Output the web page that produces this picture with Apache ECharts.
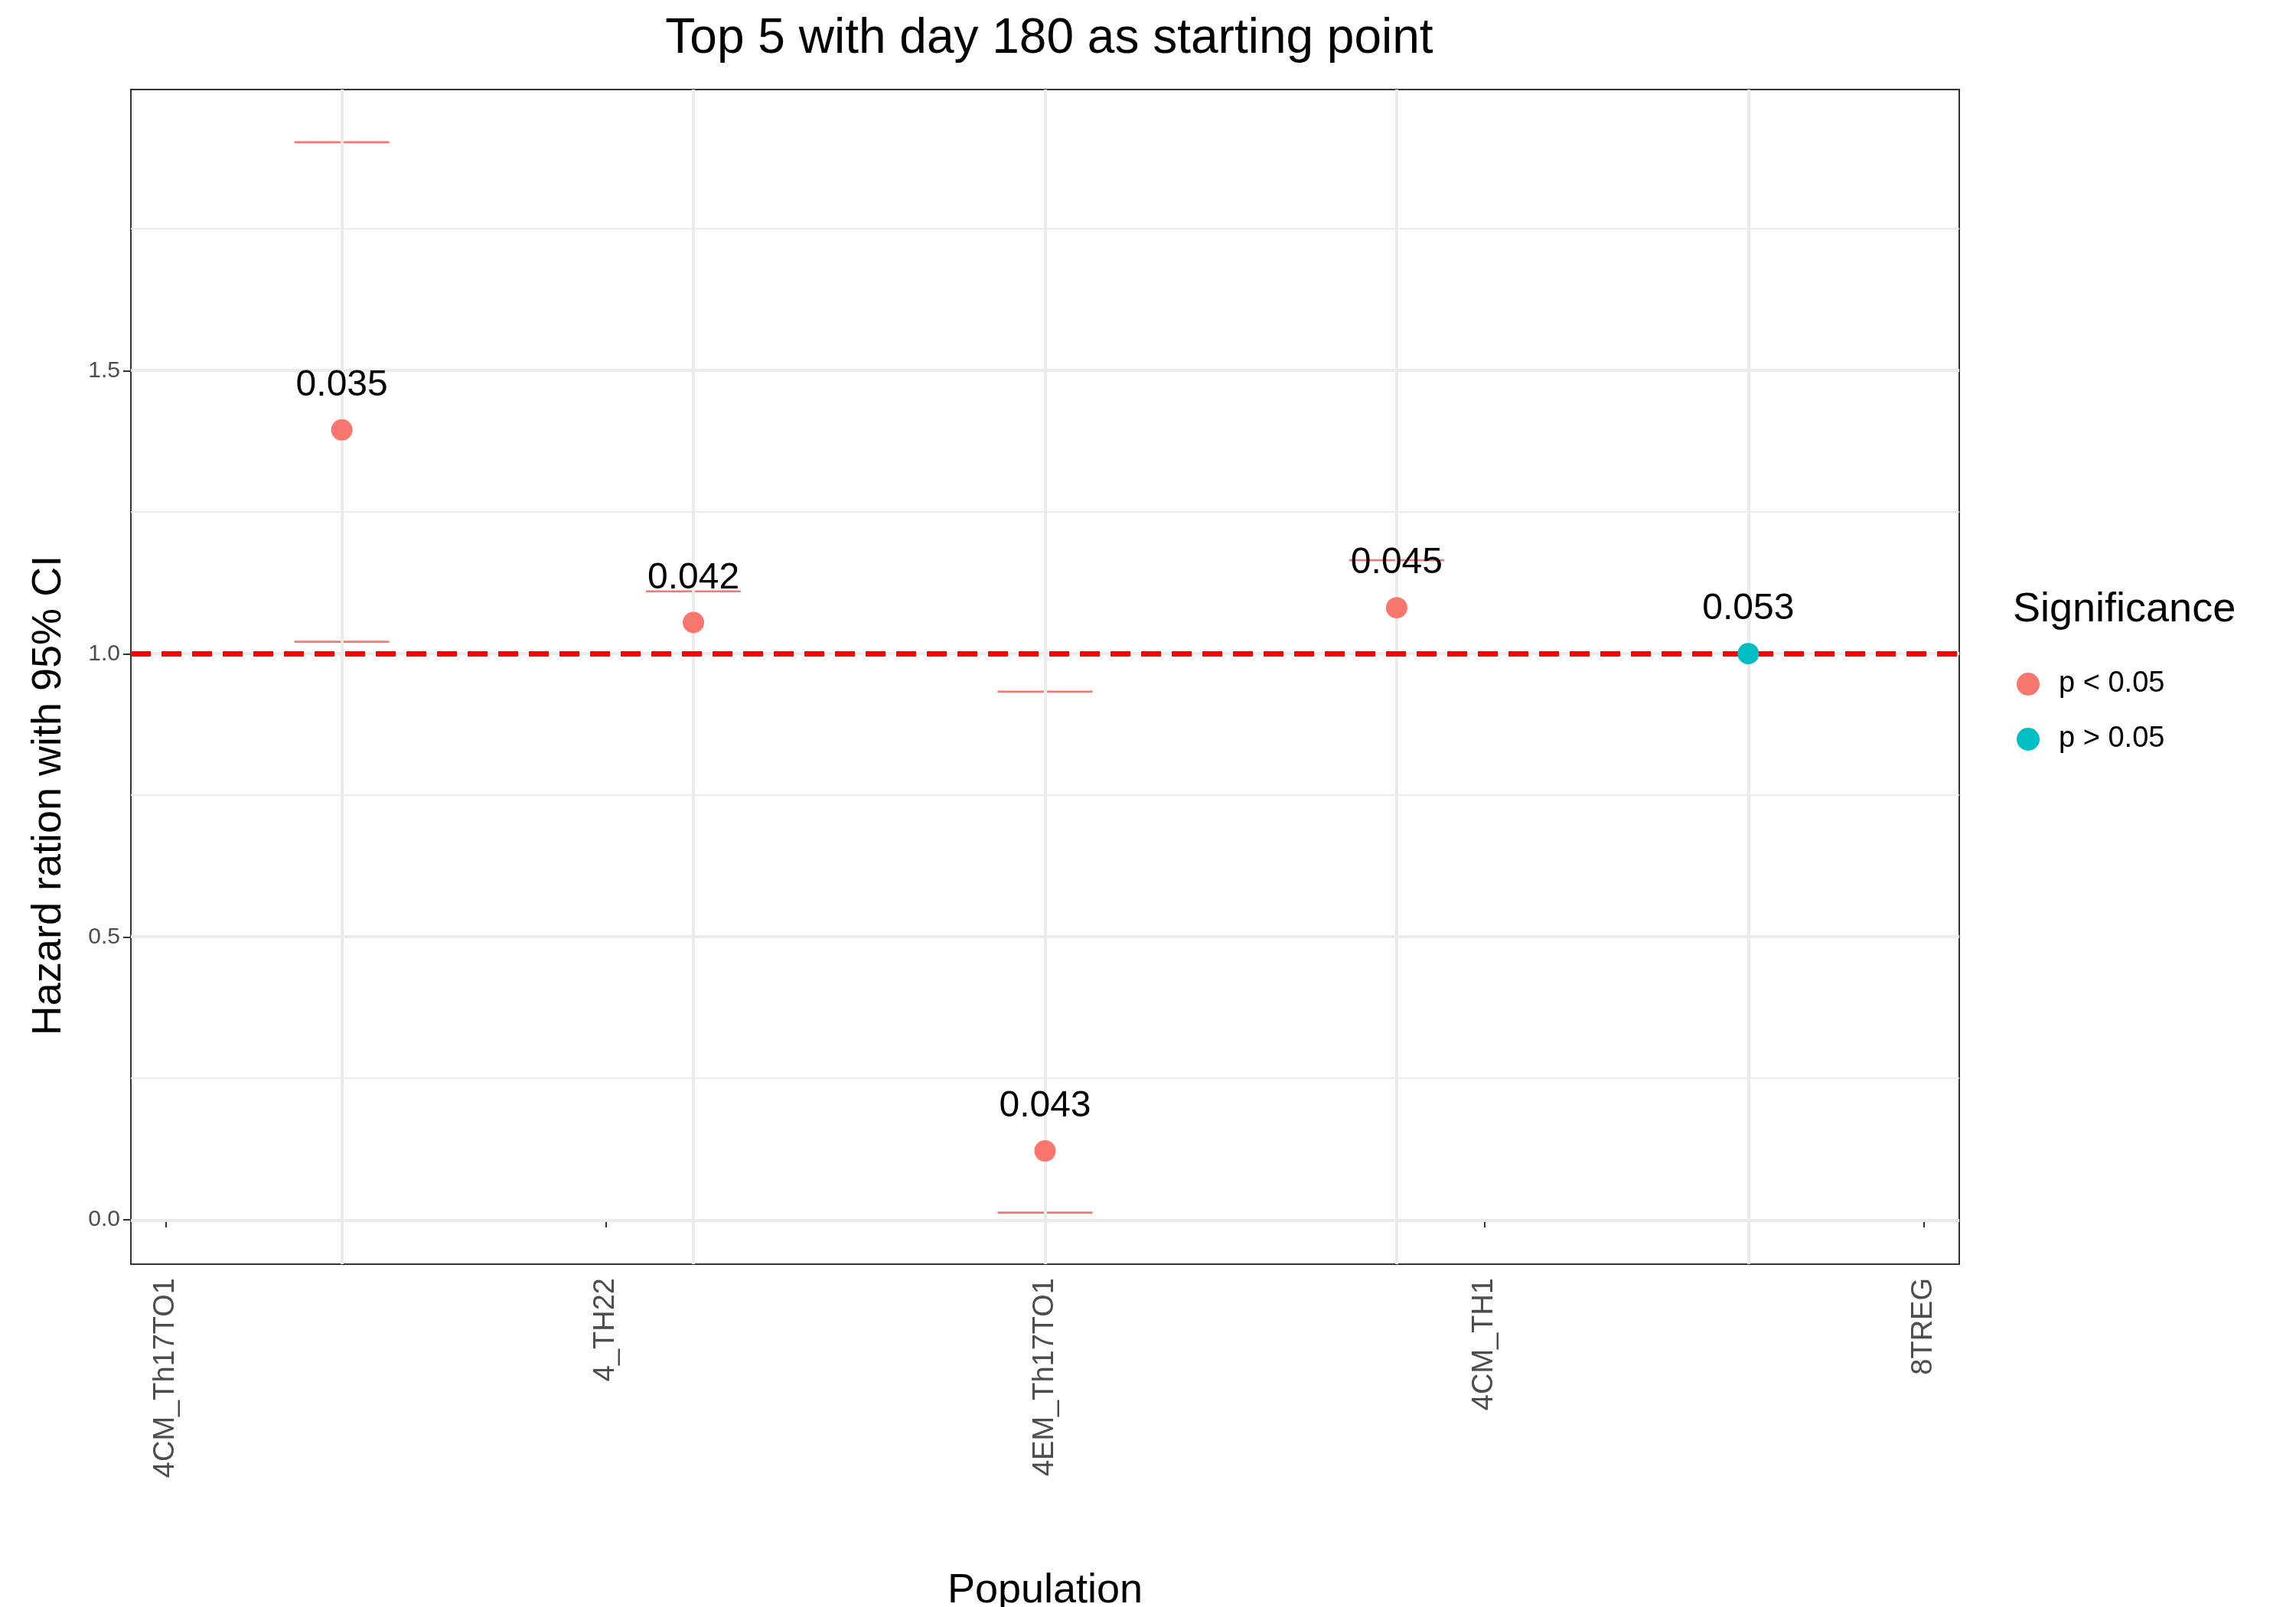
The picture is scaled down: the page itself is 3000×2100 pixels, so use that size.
<!DOCTYPE html>
<html>
<head>
<meta charset="utf-8">
<script src="https://cdn.jsdelivr.net/npm/echarts@6/dist/echarts.min.js"></script>
<style>html,body{margin:0;background:#fff}#chart{width:3000px;height:2100px}</style>
</head>
<body>
<div id="chart"></div>
<script>
var populations = ['4CM_Th17TO1', '4_TH22', '4EM_Th17TO1', '4CM_TH1', '8TREG'];
var hazard = [1.395, 1.055, 0.122, 1.081, 1.0];
var lower = [1.021, 1.0, 0.013, 1.0, 1.0];
var upper = [1.903, 1.11, 0.933, 1.165, 1.0];
var pvalues = ['0.035', '0.042', '0.043', '0.045', '0.053'];
var significance = ['p < 0.05', 'p < 0.05', 'p < 0.05', 'p < 0.05', 'p > 0.05'];
var yTicks = [0, 0.5, 1, 1.5];
var yMinor = [0.25, 0.75, 1.25, 1.75];

var colors = { 'p < 0.05': '#F8766D', 'p > 0.05': '#00BFC4' };
var font = 'Liberation Sans, Arial, sans-serif';

function points(group) {
    var out = [];
    hazard.forEach(function (v, i) {
        if (significance[i] === group) out.push({ value: [i, v], label: { formatter: pvalues[i] } });
    });
    return out;
}

var gridLines = [];
yTicks.forEach(function (v) { gridLines.push({ yAxis: v, lineStyle: { width: 4 } }); });
yMinor.forEach(function (v) { gridLines.push({ yAxis: v, lineStyle: { width: 2 } }); });
populations.forEach(function (p, i) { gridLines.push({ xAxis: i, lineStyle: { width: 4 } }); });

var option = {
    animation: false,
    title: {
        text: 'Top 5 with day 180 as starting point',
        left: 1366, top: 14, textAlign: 'center',
        textStyle: { fontFamily: font, fontSize: 64, fontWeight: 'normal', color: '#000' }
    },
    grid: [
        { left: 171, top: 117, width: 2389, height: 1535, show: true, borderColor: '#333', borderWidth: 2, backgroundColor: '#fff', outerBoundsMode: 'none', containLabel: false },
        { left: 217, top: 485, width: 2297, height: 1109, outerBoundsMode: 'none', containLabel: false }
    ],
    xAxis: [
        { gridIndex: 0, type: 'value', min: -0.6, max: 4.6, show: false },
        {
            gridIndex: 1, type: 'category', data: populations, boundaryGap: false,
            position: 'bottom', offset: 58,
            name: 'Population', nameLocation: 'middle', nameGap: 400,
            nameTextStyle: { fontFamily: font, fontSize: 54, color: '#000' },
            axisLine: { show: false },
            axisTick: { show: true, length: 10, alignWithLabel: true, lineStyle: { color: '#333', width: 2 } },
            axisLabel: { rotate: 90, fontFamily: font, fontSize: 38, color: '#4d4d4d', margin: 18, interval: 0 },
            splitLine: { show: false }
        }
    ],
    yAxis: [
        { gridIndex: 0, type: 'value', min: -0.078, max: 1.996, show: false },
        {
            gridIndex: 1, type: 'value', min: 0, max: 1.5, interval: 0.5,
            position: 'left', offset: 46,
            name: 'Hazard ration with 95% CI', nameLocation: 'middle', nameGap: 80,
            nameTextStyle: { fontFamily: font, fontSize: 54, color: '#000' },
            axisLine: { show: false },
            axisTick: { show: true, length: 10, lineStyle: { color: '#333', width: 2 } },
            axisLabel: { fontFamily: font, fontSize: 30, color: '#4d4d4d', margin: 14, formatter: function (v) { return v.toFixed(1); } },
            splitLine: { show: false }
        }
    ],
    legend: {
        orient: 'vertical', left: 2630, top: 870, itemGap: 34,
        itemWidth: 30, itemHeight: 30, icon: 'circle',
        data: ['p < 0.05', 'p > 0.05'],
        textStyle: { fontFamily: font, fontSize: 38, color: '#000', padding: [0, 0, 0, 20] }
    },
    graphic: [{
        type: 'text', left: 2630, top: 770,
        style: { text: 'Significance', fontFamily: font, fontSize: 54, fill: '#000' }
    }],
    series: [
        {
            type: 'line', xAxisIndex: 0, yAxisIndex: 0, data: [], silent: true,
            markLine: { symbol: 'none', silent: true, label: { show: false }, lineStyle: { color: '#ebebeb', type: 'solid' }, data: gridLines }
        },
        {
            type: 'custom', xAxisIndex: 0, yAxisIndex: 0, z: 3, clip: false,
            data: populations.map(function (p, i) { return [i, lower[i], upper[i]]; }),
            renderItem: function (params, api) {
                var i = api.value(0);
                var lo = api.coord([i, api.value(1)]);
                var hi = api.coord([i, api.value(2)]);
                var hw = api.size([0.135, 0])[0];
                var c = colors[significance[params.dataIndex]];
                var st = { fill: c };
                return {
                    type: 'group', children: [
                        { type: 'rect', shape: { x: lo[0] - 1.3, y: hi[1], width: 2.6, height: lo[1] - hi[1] }, style: st },
                        { type: 'rect', shape: { x: lo[0] - hw, y: lo[1] - 1.3, width: 2 * hw, height: 2.6 }, style: st },
                        { type: 'rect', shape: { x: hi[0] - hw, y: hi[1] - 1.3, width: 2 * hw, height: 2.6 }, style: st }
                    ]
                };
            }
        },
        {
            type: 'line', xAxisIndex: 0, yAxisIndex: 0, data: [], silent: true, z: 4,
            markLine: { symbol: 'none', silent: true, label: { show: false }, lineStyle: { color: '#ff0000', type: [26, 14], width: 7 }, data: [{ yAxis: 1 }] }
        },
        {
            name: 'p < 0.05', type: 'scatter', xAxisIndex: 0, yAxisIndex: 0, z: 5,
            symbolSize: 28, itemStyle: { color: colors['p < 0.05'], opacity: 1 },
            label: { show: true, position: 'top', distance: 20, fontFamily: font, fontSize: 48, color: '#000' },
            data: points('p < 0.05')
        },
        {
            name: 'p > 0.05', type: 'scatter', xAxisIndex: 0, yAxisIndex: 0, z: 5,
            symbolSize: 28, itemStyle: { color: colors['p > 0.05'], opacity: 1 },
            label: { show: true, position: 'top', distance: 20, fontFamily: font, fontSize: 48, color: '#000' },
            data: points('p > 0.05')
        }
    ]
};

var myChart = echarts.init(document.getElementById('chart'));
myChart.setOption(option);
</script>
</body>
</html>
